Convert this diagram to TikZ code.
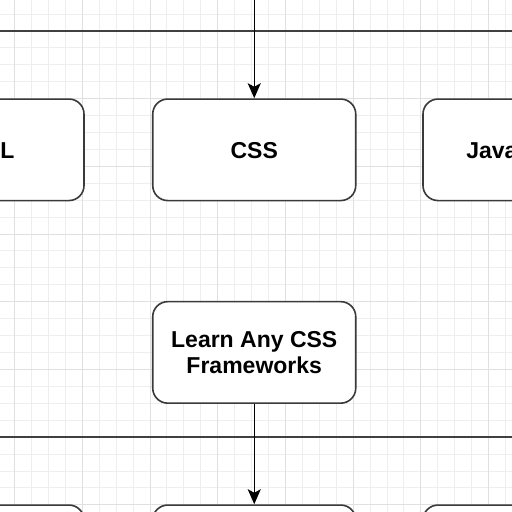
\documentclass[tikz,border=0pt]{standalone}
\usepackage{fontspec}
\setmainfont{Liberation Sans}
\usetikzlibrary{arrows.meta}
\definecolor{gridminor}{HTML}{EEEEEE}
\definecolor{gridmajor}{HTML}{E0E0E0}
\definecolor{boxc}{HTML}{3A3A3A}
\definecolor{linec}{HTML}{404040}
\tikzset{
  stepbox/.style={draw=boxc, line width=1.6pt, rounded corners=15pt, fill=white,
    minimum width=203pt, minimum height=101.5pt, inner sep=0pt, align=center,
    font=\bfseries\fontsize{23}{26}\selectfont},
  onelinebox/.style={stepbox, text height=16.5pt, text depth=0pt},
  minorline/.style={draw=gridminor, line width=0.9pt},
  majorline/.style={draw=gridmajor, line width=0.9pt},
  sepline/.style={draw=linec, line width=1.6pt},
  arr/.style={draw=black, line width=1.5pt, -{Stealth[length=15pt,width=13pt,inset=3.5pt]}}
}
\begin{document}
\begin{tikzpicture}[x=1pt,y=-1pt]
\useasboundingbox (0,0) rectangle (512,512);
\clip (0,0) rectangle (512,512);
\fill[white] (0,0) rectangle (512,512);
% grid
\foreach \i in {-2,...,30} {
  \draw[minorline] ({14.6+\i*16.925},0) -- ({14.6+\i*16.925},512);
  \draw[minorline] (0,{30.9+\i*16.925}) -- (512,{30.9+\i*16.925});
}
\foreach \i in {-1,...,8} {
  \draw[majorline] ({14.6+\i*67.7},0) -- ({14.6+\i*67.7},512);
  \draw[majorline] (0,{30.9+\i*67.7}) -- (512,{30.9+\i*67.7});
}
% separator lines
\coordinate (l1a) at (-20,30.9);
\coordinate (l1b) at (540,30.9);
\coordinate (l2a) at (-20,437.0);
\coordinate (l2b) at (540,437.0);
\draw[sepline] (l1a) -- (l1b);
\draw[sepline] (l2a) -- (l2b);
% first row
\node[onelinebox] (html) at (-17.5,149.8) {HTML};
\node[onelinebox] (css) at (254.25,149.8) {CSS};
\node[onelinebox] (js) at (524.5,149.8) {JavaScript};
% frameworks
\node[stepbox] (fw) at (254.25,352.4) {Learn Any CSS\\Frameworks};
% bottom row
\node[stepbox] (b1) at (-17.5,555.8) {};
\node[stepbox] (b2) at (254.25,555.8) {};
\node[stepbox] (b3) at (524.5,555.8) {};
% connectors
\coordinate (topin) at (254.25,-30);
\draw[arr] (topin) -- (css.north);
\draw[arr] (fw.south) -- (b2.north);
\end{tikzpicture}
\end{document}
